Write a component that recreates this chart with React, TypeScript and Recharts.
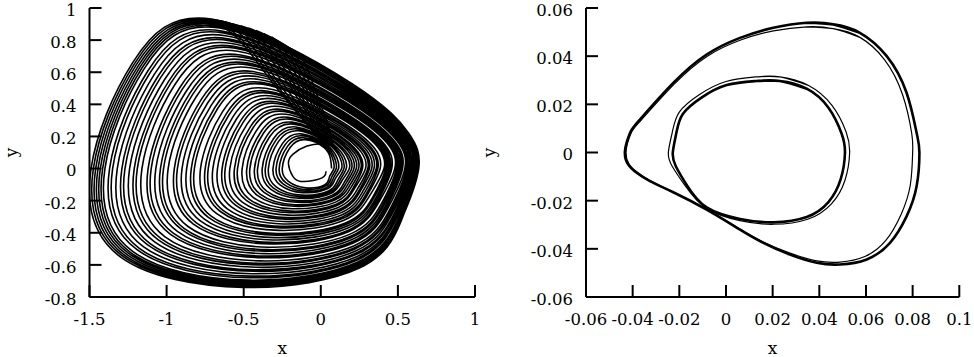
import React from 'react';
import { LineChart, Line, XAxis, YAxis } from 'recharts';

// ---------- tick labels ----------
const leftXTicks = [-1.5, -1, -0.5, 0, 0.5, 1];
const leftYTicks = [-0.8, -0.6, -0.4, -0.2, 0, 0.2, 0.4, 0.6, 0.8, 1];
const rightXTicks = [-0.06, -0.04, -0.02, 0, 0.02, 0.04, 0.06, 0.08, 0.1];
const rightYTicks = [-0.06, -0.04, -0.02, 0, 0.02, 0.04, 0.06];

// ---------- left panel: chaotic attractor ----------
// nested loops, each: right, right-upper, upper-right, top, upper-left, left, lower-left, bottom, lower-right, right-lower
const spiralLoops: number[][][] = [
  [[0.07, 0], [0.063, 0.06], [0.022, 0.13], [-0.10, 0.18], [-0.20, 0.13], [-0.25, 0], [-0.21, -0.08], [-0.10, -0.12], [0.027, -0.10], [0.057, -0.05]],
  [[0.085, 0], [0.077, 0.063], [0.026, 0.136], [-0.11, 0.192], [-0.216, 0.138], [-0.27, 0], [-0.227, -0.088], [-0.106, -0.13], [0.033, -0.108], [0.07, -0.054]],
  [[0.10, 0], [0.09, 0.065], [0.031, 0.143], [-0.119, 0.204], [-0.233, 0.147], [-0.29, 0], [-0.245, -0.095], [-0.113, -0.14], [0.039, -0.117], [0.082, -0.059]],
  [[0.115, 0], [0.104, 0.068], [0.036, 0.149], [-0.129, 0.216], [-0.249, 0.155], [-0.31, 0], [-0.262, -0.103], [-0.119, -0.15], [0.045, -0.125], [0.094, -0.063]],
  [[0.135, 0], [0.122, 0.072], [0.042, 0.159], [-0.144, 0.235], [-0.274, 0.169], [-0.34, 0], [-0.29, -0.114], [-0.129, -0.165], [0.053, -0.138], [0.111, -0.07]],
  [[0.15, 0], [0.135, 0.074], [0.047, 0.166], [-0.153, 0.247], [-0.291, 0.177], [-0.36, 0], [-0.307, -0.122], [-0.136, -0.175], [0.059, -0.146], [0.123, -0.075]],
  [[0.165, 0], [0.149, 0.077], [0.051, 0.172], [-0.163, 0.259], [-0.307, 0.186], [-0.38, 0], [-0.324, -0.129], [-0.142, -0.185], [0.064, -0.155], [0.135, -0.079]],
  [[0.185, 0], [0.167, 0.081], [0.057, 0.182], [-0.177, 0.277], [-0.332, 0.198], [-0.41, 0], [-0.351, -0.141], [-0.152, -0.2], [0.072, -0.167], [0.152, -0.086]],
  [[0.20, 0], [0.18, 0.083], [0.062, 0.188], [-0.187, 0.289], [-0.348, 0.207], [-0.43, 0], [-0.368, -0.148], [-0.158, -0.21], [0.078, -0.175], [0.164, -0.091]],
  [[0.215, 0], [0.194, 0.087], [0.067, 0.198], [-0.201, 0.307], [-0.372, 0.22], [-0.46, 0], [-0.394, -0.159], [-0.168, -0.225], [0.084, -0.188], [0.176, -0.097]],
  [[0.23, 0], [0.207, 0.09], [0.071, 0.204], [-0.211, 0.319], [-0.389, 0.228], [-0.48, 0], [-0.412, -0.167], [-0.174, -0.235], [0.09, -0.196], [0.189, -0.102]],
  [[0.245, 0], [0.221, 0.094], [0.076, 0.214], [-0.226, 0.338], [-0.414, 0.241], [-0.51, 0], [-0.439, -0.179], [-0.184, -0.25], [0.096, -0.209], [0.201, -0.109]],
  [[0.26, 0], [0.234, 0.097], [0.081, 0.224], [-0.24, 0.356], [-0.439, 0.254], [-0.54, 0], [-0.465, -0.19], [-0.194, -0.265], [0.101, -0.222], [0.213, -0.116]],
  [[0.27, 0], [0.243, 0.10], [0.084, 0.23], [-0.25, 0.368], [-0.455, 0.263], [-0.56, 0], [-0.483, -0.198], [-0.20, -0.275], [0.105, -0.23], [0.221, -0.12]],
  [[0.29, 0], [0.261, 0.104], [0.09, 0.24], [-0.264, 0.386], [-0.479, 0.275], [-0.59, 0], [-0.509, -0.209], [-0.21, -0.29], [0.113, -0.242], [0.238, -0.127]],
  [[0.305, 0], [0.275, 0.108], [0.095, 0.249], [-0.279, 0.404], [-0.504, 0.288], [-0.62, 0], [-0.535, -0.22], [-0.219, -0.305], [0.119, -0.255], [0.25, -0.133]],
  [[0.315, 0], [0.284, 0.11], [0.098, 0.256], [-0.289, 0.416], [-0.521, 0.297], [-0.64, 0], [-0.553, -0.228], [-0.226, -0.315], [0.123, -0.264], [0.258, -0.138]],
  [[0.33, 0], [0.297, 0.114], [0.102, 0.266], [-0.303, 0.434], [-0.546, 0.31], [-0.67, 0], [-0.58, -0.239], [-0.236, -0.33], [0.129, -0.276], [0.271, -0.145]],
  [[0.345, 0], [0.311, 0.118], [0.107, 0.275], [-0.318, 0.452], [-0.57, 0.322], [-0.70, 0], [-0.606, -0.251], [-0.245, -0.345], [0.135, -0.289], [0.283, -0.152]],
  [[0.36, 0], [0.324, 0.122], [0.112, 0.285], [-0.332, 0.47], [-0.595, 0.335], [-0.73, 0], [-0.632, -0.262], [-0.255, -0.36], [0.14, -0.301], [0.295, -0.158]],
  [[0.37, 0], [0.333, 0.124], [0.115, 0.291], [-0.342, 0.482], [-0.611, 0.344], [-0.75, 0], [-0.649, -0.269], [-0.261, -0.37], [0.144, -0.31], [0.303, -0.163]],
  [[0.385, 0], [0.347, 0.128], [0.119, 0.301], [-0.356, 0.50], [-0.636, 0.356], [-0.78, 0], [-0.675, -0.281], [-0.271, -0.385], [0.15, -0.322], [0.316, -0.17]],
  [[0.41, 0], [0.369, 0.134], [0.127, 0.314], [-0.376, 0.525], [-0.669, 0.374], [-0.82, 0], [-0.711, -0.296], [-0.284, -0.405], [0.16, -0.339], [0.336, -0.179]],
  [[0.42, 0], [0.378, 0.136], [0.13, 0.32], [-0.386, 0.537], [-0.686, 0.382], [-0.84, 0], [-0.729, -0.304], [-0.29, -0.415], [0.164, -0.348], [0.344, -0.183]],
  [[0.43, 0], [0.387, 0.14], [0.133, 0.33], [-0.40, 0.555], [-0.71, 0.395], [-0.87, 0], [-0.755, -0.315], [-0.30, -0.43], [0.168, -0.36], [0.353, -0.19]],
  [[0.44, 0], [0.396, 0.144], [0.136, 0.34], [-0.414, 0.573], [-0.734, 0.408], [-0.90, 0], [-0.781, -0.326], [-0.31, -0.445], [0.172, -0.372], [0.361, -0.197]],
  [[0.45, 0], [0.405, 0.148], [0.14, 0.349], [-0.429, 0.591], [-0.759, 0.42], [-0.93, 0], [-0.807, -0.338], [-0.319, -0.46], [0.176, -0.385], [0.369, -0.203]],
  [[0.46, 0], [0.414, 0.15], [0.143, 0.356], [-0.439, 0.604], [-0.776, 0.429], [-0.95, 0], [-0.826, -0.346], [-0.326, -0.47], [0.179, -0.394], [0.377, -0.208]],
  [[0.48, 0], [0.432, 0.156], [0.149, 0.369], [-0.458, 0.628], [-0.809, 0.446], [-0.99, 0], [-0.861, -0.361], [-0.339, -0.49], [0.187, -0.41], [0.394, -0.217]],
  [[0.49, 0], [0.441, 0.159], [0.152, 0.378], [-0.473, 0.646], [-0.833, 0.459], [-1.02, 0], [-0.887, -0.372], [-0.348, -0.505], [0.191, -0.423], [0.402, -0.224]],
  [[0.50, 0], [0.45, 0.162], [0.155, 0.385], [-0.482, 0.658], [-0.85, 0.468], [-1.04, 0], [-0.904, -0.379], [-0.355, -0.515], [0.195, -0.431], [0.41, -0.228]],
  [[0.51, 0], [0.459, 0.166], [0.158, 0.394], [-0.497, 0.676], [-0.874, 0.48], [-1.07, 0], [-0.93, -0.391], [-0.364, -0.53], [0.199, -0.444], [0.418, -0.235]],
  [[0.52, 0], [0.468, 0.17], [0.161, 0.404], [-0.511, 0.694], [-0.899, 0.493], [-1.10, 0], [-0.957, -0.402], [-0.374, -0.545], [0.203, -0.456], [0.426, -0.242]],
  [[0.53, 0], [0.477, 0.172], [0.164, 0.411], [-0.521, 0.707], [-0.916, 0.502], [-1.12, 0], [-0.975, -0.41], [-0.381, -0.555], [0.207, -0.465], [0.435, -0.247]],
  [[0.545, 0], [0.491, 0.177], [0.169, 0.424], [-0.54, 0.731], [-0.949, 0.519], [-1.16, 0], [-1.01, -0.425], [-0.394, -0.575], [0.213, -0.482], [0.447, -0.256]],
  [[0.555, 0], [0.50, 0.181], [0.172, 0.433], [-0.555, 0.749], [-0.973, 0.532], [-1.19, 0], [-1.036, -0.436], [-0.403, -0.59], [0.216, -0.494], [0.455, -0.262]],
  [[0.56, 0], [0.504, 0.184], [0.174, 0.44], [-0.564, 0.761], [-0.989, 0.54], [-1.21, 0], [-1.054, -0.444], [-0.41, -0.60], [0.218, -0.502], [0.459, -0.267]],
  [[0.57, 0], [0.513, 0.188], [0.177, 0.449], [-0.579, 0.779], [-1.014, 0.553], [-1.24, 0], [-1.08, -0.455], [-0.419, -0.615], [0.222, -0.515], [0.467, -0.273]],
  [[0.58, 0], [0.522, 0.192], [0.18, 0.459], [-0.594, 0.797], [-1.039, 0.566], [-1.27, 0], [-1.107, -0.467], [-0.429, -0.63], [0.226, -0.528], [0.476, -0.28]],
  [[0.585, 0], [0.527, 0.194], [0.181, 0.466], [-0.603, 0.809], [-1.056, 0.575], [-1.29, 0], [-1.125, -0.474], [-0.436, -0.64], [0.228, -0.536], [0.48, -0.285]],
  [[0.595, 0], [0.536, 0.198], [0.184, 0.475], [-0.618, 0.827], [-1.08, 0.587], [-1.32, 0], [-1.151, -0.486], [-0.445, -0.655], [0.232, -0.549], [0.488, -0.292]],
  [[0.60, 0], [0.54, 0.202], [0.186, 0.485], [-0.632, 0.845], [-1.105, 0.60], [-1.35, 0], [-1.177, -0.497], [-0.455, -0.67], [0.234, -0.561], [0.492, -0.298]],
  [[0.605, 0], [0.545, 0.204], [0.188, 0.491], [-0.642, 0.857], [-1.121, 0.609], [-1.37, 0], [-1.194, -0.504], [-0.461, -0.68], [0.236, -0.57], [0.496, -0.303]],
  [[0.615, 0], [0.554, 0.208], [0.191, 0.501], [-0.656, 0.875], [-1.146, 0.621], [-1.40, 0], [-1.22, -0.516], [-0.471, -0.695], [0.24, -0.582], [0.504, -0.31]],
  [[0.618, 0], [0.556, 0.21], [0.192, 0.506], [-0.664, 0.885], [-1.159, 0.628], [-1.415, 0], [-1.235, -0.522], [-0.476, -0.703], [0.241, -0.589], [0.507, -0.313]],
  [[0.622, 0], [0.56, 0.212], [0.193, 0.511], [-0.671, 0.894], [-1.171, 0.635], [-1.43, 0], [-1.248, -0.527], [-0.481, -0.71], [0.243, -0.595], [0.51, -0.317]],
  [[0.626, 0], [0.563, 0.214], [0.194, 0.516], [-0.678, 0.903], [-1.183, 0.641], [-1.445, 0], [-1.261, -0.533], [-0.486, -0.718], [0.244, -0.601], [0.513, -0.32]],
  [[0.63, 0], [0.567, 0.216], [0.195, 0.52], [-0.686, 0.912], [-1.196, 0.647], [-1.46, 0], [-1.274, -0.539], [-0.49, -0.725], [0.246, -0.608], [0.517, -0.323]],
  [[0.632, 0], [0.569, 0.218], [0.196, 0.525], [-0.693, 0.921], [-1.208, 0.654], [-1.475, 0], [-1.287, -0.544], [-0.495, -0.733], [0.246, -0.614], [0.518, -0.327]],
  [[0.635, 0], [0.57, 0.22], [0.20, 0.53], [-0.70, 0.93], [-1.22, 0.66], [-1.49, 0], [-1.30, -0.55], [-0.50, -0.74], [0.25, -0.62], [0.52, -0.33], [0.635, 0]],
];

// innermost open loop (start of trajectory)
const coreLoop: number[][] = [
  [0.04, 0.15], [0.0, 0.155], [-0.09, 0.14], [-0.18, 0.09], [-0.21, 0.03], [-0.18, -0.05],
  [-0.13, -0.08], [-0.05, -0.075], [0.02, -0.05], [0.034, -0.017],
];

// fold band: lines leaving the top envelope toward the centre
const foldLines: number[][][] = [
  [[-0.86, 0.89], [-0.74, 0.92], [-0.55, 0.82], [-0.38, 0.62], [-0.20, 0.40], [-0.05, 0.23], [0.02, 0.14]],
  [[-0.82, 0.905], [-0.70, 0.92], [-0.52, 0.81], [-0.36, 0.62], [-0.19, 0.40], [-0.04, 0.23], [0.025, 0.14]],
  [[-0.78, 0.915], [-0.66, 0.92], [-0.48, 0.80], [-0.33, 0.61], [-0.17, 0.40], [-0.03, 0.23], [0.03, 0.14]],
  [[-0.74, 0.92], [-0.62, 0.91], [-0.45, 0.80], [-0.30, 0.61], [-0.15, 0.40], [-0.02, 0.23], [0.035, 0.14]],
  [[-0.70, 0.925], [-0.58, 0.90], [-0.42, 0.79], [-0.27, 0.61], [-0.13, 0.41], [-0.01, 0.23], [0.04, 0.14]],
  [[-0.66, 0.92], [-0.54, 0.885], [-0.39, 0.785], [-0.245, 0.605], [-0.115, 0.41], [0.0, 0.235], [0.045, 0.14]],
  [[-0.62, 0.91], [-0.50, 0.875], [-0.36, 0.775], [-0.22, 0.60], [-0.10, 0.41], [0.01, 0.24], [0.05, 0.14]],
  [[-0.57, 0.90], [-0.45, 0.86], [-0.32, 0.765], [-0.195, 0.60], [-0.085, 0.415], [0.015, 0.245], [0.055, 0.14]],
  [[-0.52, 0.89], [-0.40, 0.845], [-0.28, 0.755], [-0.17, 0.60], [-0.07, 0.42], [0.02, 0.25], [0.06, 0.14]],
  [[-0.47, 0.875], [-0.35, 0.825], [-0.245, 0.745], [-0.145, 0.595], [-0.055, 0.42], [0.03, 0.255], [0.065, 0.14]],
  [[-0.42, 0.86], [-0.30, 0.805], [-0.21, 0.73], [-0.12, 0.59], [-0.04, 0.42], [0.04, 0.26], [0.07, 0.14]],
  [[-0.37, 0.84], [-0.25, 0.78], [-0.17, 0.715], [-0.095, 0.585], [-0.025, 0.42], [0.045, 0.265], [0.075, 0.14]],
  [[-0.32, 0.82], [-0.20, 0.75], [-0.13, 0.70], [-0.07, 0.58], [-0.01, 0.42], [0.05, 0.27], [0.08, 0.14]],
];

// ---------- right panel: period-2 orbit ----------
const outerOrbitA: number[][] = [
  [0.0346, 0.0539], [0.046, 0.0532], [0.0574, 0.0497], [0.0689, 0.04], [0.0774, 0.0248], [0.0817, 0.0082],
  [0.0829, 0.0], [0.0817, -0.014], [0.0774, -0.0265], [0.0703, -0.0375], [0.0603, -0.0444], [0.0489, -0.0465],
  [0.0389, -0.0458], [0.0274, -0.0424], [0.016, -0.0375], [0.006, -0.032], [-0.0083, -0.0237], [-0.0226, -0.0165],
  [-0.0326, -0.0119], [-0.0383, -0.0084], [-0.0419, -0.005], [-0.0433, 0.0007], [-0.0411, 0.0082], [-0.0369, 0.0137],
  [-0.0226, 0.0289], [-0.0083, 0.0407], [0.006, 0.0476], [0.0203, 0.0518], [0.0346, 0.0539], [0.046, 0.0532], [0.0574, 0.0497],
];
const outerOrbitB: number[][] = [
  [0.0346, 0.0522], [0.046, 0.0514], [0.0574, 0.0478], [0.068, 0.0385], [0.0757, 0.024], [0.0796, 0.008],
  [0.08, 0.0], [0.079, -0.0135], [0.075, -0.0258], [0.0685, -0.0365], [0.0595, -0.0432], [0.0489, -0.0455],
  [0.0389, -0.045], [0.0274, -0.0418], [0.016, -0.0372], [0.006, -0.0318], [-0.0083, -0.0236], [-0.0226, -0.0164],
  [-0.0324, -0.0117], [-0.038, -0.0082], [-0.0415, -0.0049], [-0.0428, 0.0007], [-0.0407, 0.008], [-0.0364, 0.0134],
  [-0.0222, 0.0284], [-0.008, 0.04], [0.006, 0.0466], [0.0203, 0.0505], [0.0346, 0.0522], [0.046, 0.0514], [0.0574, 0.0478],
];
const innerOrbitA: number[][] = [
  [0.0131, 0.0297], [0.0231, 0.0297], [0.0346, 0.0265], [0.044, 0.0185], [0.0495, 0.008], [0.051, 0.0],
  [0.0492, -0.011], [0.044, -0.0205], [0.0346, -0.0268], [0.0203, -0.029], [0.006, -0.0276], [-0.0083, -0.0228],
  [-0.0165, -0.014], [-0.0215, -0.0057], [-0.0228, 0.0], [-0.0213, 0.008], [-0.0185, 0.016], [-0.0105, 0.0228],
  [0.0003, 0.028], [0.0131, 0.0297], [0.0231, 0.0297], [0.0346, 0.0265],
];
const innerOrbitB: number[][] = [
  [0.0131, 0.0314], [0.0231, 0.0314], [0.035, 0.028], [0.0455, 0.0195], [0.0515, 0.0085], [0.053, 0.0],
  [0.051, -0.0115], [0.0452, -0.0213], [0.035, -0.0277], [0.0203, -0.0298], [0.006, -0.0283], [-0.0083, -0.0232],
  [-0.0172, -0.0142], [-0.023, -0.0058], [-0.0247, 0.0], [-0.023, 0.0085], [-0.02, 0.0168], [-0.0115, 0.024],
  [0.0, 0.0295], [0.0131, 0.0314], [0.0231, 0.0314], [0.035, 0.028],
];

// ---------- helpers ----------
type Pt = { x: number; y: number };
const toPts = (arr: number[][]): Pt[] => arr.map(([x, y]) => ({ x, y }));

const FONT = "'DejaVu Serif', serif";
const TICK_SIZE = 16.5;
const TITLE_SIZE = 17;
const tickStyle = { fill: '#000', fontSize: TICK_SIZE, fontFamily: FONT, style: { fontFamily: FONT } };
const lineStyle = { stroke: '#000', strokeWidth: 2 };

interface SeriesSpec { data: Pt[]; width: number }

interface PanelProps {
  left: number;
  width: number;
  margin: { top: number; right: number; bottom: number; left: number };
  xDomain: [number, number];
  yDomain: [number, number];
  xTicks: number[];
  yTicks: number[];
  yTitleDx: number;
  series: SeriesSpec[];
}

function Panel({ left, width, margin, xDomain, yDomain, xTicks, yTicks, yTitleDx, series }: PanelProps) {
  const xTitle = (p: any) => {
    const vb = p.viewBox || {};
    return (
      <text x={vb.x + vb.width / 2} y={vb.y + vb.height - 3} textAnchor="middle" fontFamily={FONT} style={{ fontFamily: FONT }} fontSize={TITLE_SIZE} fill="#000">
        x
      </text>
    );
  };
  const yTitle = (p: any) => {
    const vb = p.viewBox || {};
    const tx = vb.x + yTitleDx;
    const ty = vb.y + vb.height / 2;
    return (
      <text x={tx} y={ty} transform={`rotate(-90, ${tx}, ${ty})`} textAnchor="middle" fontFamily={FONT} style={{ fontFamily: FONT }} fontSize={TITLE_SIZE} fill="#000">
        y
      </text>
    );
  };
  return (
    <div style={{ position: 'absolute', left, top: 0, width, height: 357, fontFamily: FONT }}>
      <LineChart width={width} height={357} margin={margin} style={{ fontFamily: FONT }}>
        <XAxis
          xAxisId="b" type="number" dataKey="x" orientation="bottom" domain={xDomain} ticks={xTicks}
          interval={0} allowDataOverflow height={60} tickSize={-12} tickMargin={28}
          stroke="#000" tick={tickStyle} tickLine={lineStyle} axisLine={lineStyle} label={xTitle}
        />
        <XAxis
          xAxisId="t" type="number" dataKey="x" orientation="top" domain={xDomain} ticks={xTicks}
          interval={0} allowDataOverflow height={0} tickSize={-12} tickFormatter={() => ''}
          stroke="#000" tick={tickStyle} tickLine={lineStyle} axisLine={lineStyle}
        />
        <YAxis
          yAxisId="l" type="number" orientation="left" domain={yDomain} ticks={yTicks}
          interval={0} allowDataOverflow width={80} tickSize={-12} tickMargin={25}
          stroke="#000" tick={{ ...tickStyle, dy: 2 }} tickLine={lineStyle} axisLine={lineStyle} label={yTitle}
        />
        <YAxis
          yAxisId="r" type="number" orientation="right" domain={yDomain} ticks={yTicks}
          interval={0} allowDataOverflow width={0} tickSize={-12} tickFormatter={() => ''}
          stroke="#000" tick={tickStyle} tickLine={lineStyle} axisLine={lineStyle}
        />
        {series.map((s, i) => (
          <Line
            key={i} xAxisId="b" yAxisId="l" data={s.data} dataKey="y" type="natural"
            dot={false} activeDot={false} stroke="#000" strokeWidth={s.width}
            isAnimationActive={false} legendType="none"
          />
        ))}
      </LineChart>
    </div>
  );
}

export default function App() {
  const leftSeries: SeriesSpec[] = [
    { data: toPts(spiralLoops.flat()), width: 1.6 },
    { data: toPts(coreLoop), width: 1.5 },
    ...foldLines.map((f) => ({ data: toPts(f), width: 1.5 })),
  ];
  const rightSeries: SeriesSpec[] = [
    { data: toPts(outerOrbitA), width: 2.6 },
    { data: toPts(outerOrbitB), width: 1.2 },
    { data: toPts(innerOrbitA), width: 2.6 },
    { data: toPts(innerOrbitB), width: 1.2 },
  ];
  return (
    <div style={{ position: 'absolute', left: 0, top: 0, width: 974, height: 357, background: '#fff', fontFamily: FONT }}>
      <Panel
        left={0} width={500} margin={{ top: 8, right: 25, bottom: 0, left: 9.5 }}
        xDomain={[-1.5, 1]} yDomain={[-0.8, 1]} xTicks={leftXTicks} yTicks={leftYTicks}
        yTitleDx={7} series={leftSeries}
      />
      <Panel
        left={460} width={514} margin={{ top: 8, right: 14.7, bottom: 0, left: 46 }}
        xDomain={[-0.06, 0.1]} yDomain={[-0.06, 0.06]} xTicks={rightXTicks} yTicks={rightYTicks}
        yTitleDx={-11.5} series={rightSeries}
      />
    </div>
  );
}
